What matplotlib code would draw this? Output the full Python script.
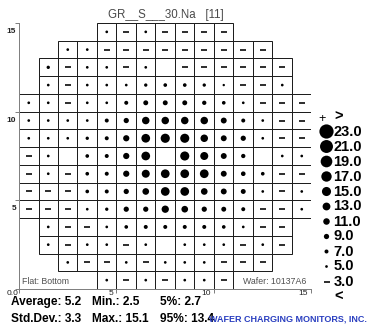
import matplotlib
matplotlib.use("Agg")
import matplotlib.pyplot as plt
from matplotlib.patches import Rectangle

plt.rcParams["font.family"] = ["Liberation Sans", "DejaVu Sans"]

W, H, DPI = 372, 326, 100

title = "GR__S___30.Na   [11]"
flat_label = "Flat: Bottom"
wafer_label = "Wafer: 10137A6"
company = "WAFER CHARGING MONITORS, INC."

# first die column of every wafer row, top row first
row_start = [4, 2, 1, 1, 0, 0, 0, 0, 0, 0, 0, 1, 1, 2, 4]
# site readings along each row (None = site without a reading)
row_values = [
    [5, 3, 5, 3, 3, 3, 3],
    [5, 5, 3, 3, 3, 3, 3, 3, 3, 3, 3],
    [6, 3, 5, 5, 3, 5, None, 3, 3, 3, 3, 3, 3],
    [5, 3, 5, 5, 5, 6, 6.5, 6.5, 6, 4.5, 3, 3, 5],
    [5, 5, 3, 5, 5, 7, 8.5, 8.5, 8.5, 7.5, 6.5, 5, 3, 3, 3],
    [5, 5, 5, 5, 7, 9, 12.5, 12.5, 12.5, 12.5, 10, 7, 5, 3, 3],
    [5, 5, 5, 6, 7, 10.5, 14.4, 15.1, 15, 12.5, 10, 9, 5, 3, 3],
    [3, 5, None, 6.5, 7, 10.5, 14.4, None, 15, 13.3, 10, 7.5, None, 5, 5],
    [3, 5, 3, 6.5, 7, 10.5, 13.3, 14.4, 14.4, 14.4, 10, 8, 6.5, 3, 3],
    [3, 3, 3, 6.5, 7, 9, 11.2, 14.4, 14.4, 11.2, 10, 8.5, 5, 3, 5],
    [3, 3, 3, 5, 6, 9, 9, 12.2, 11.2, 9, 8.5, 7, 3, 3, 5],
    [5, 3, 3, 5, 6.5, 7, 7, 7, 7, 6.5, 5, 3, 3],
    [5, 3, 5, 5, 3, 5, None, 5, 5, 5, 3, 5, 3],
    [5, 3, 3, 5, 3, 5, 5, 5, 3, 3, 3],
    [5, 3, 5, 3, 5, 5, 3],
]

legend_levels = [23.0, 21.0, 19.0, 17.0, 15.0, 13.0, 11.0, 9.0, 7.0, 5.0, 3.0]

stat_rows = [
    [("Average:", 5.2), ("Min.:", 2.5), ("5%:", 2.7)],
    [("Std.Dev.:", 3.3), ("Max.:", 15.1), ("95%:", 13.4)],
]

x_ticks = [0, 5, 10, 15]
y_ticks = [5, 10, 15]

DASH_BELOW = 4.0
PT = 72.0 / DPI  # points per pixel


def dot_size(v):
    # marker area in pt^2 for a circle whose pixel diameter grows with the reading
    d = 0.64 * v - 0.5
    return (d * PT) ** 2


def draw_marks(axis, xs, ys, vals):
    cx, cy, cs, dx, dy = [], [], [], [], []
    for x, y, v in zip(xs, ys, vals):
        if v < DASH_BELOW:
            dx.append(x)
            dy.append(y)
        else:
            cx.append(x)
            cy.append(y)
            cs.append(dot_size(v))
    axis.scatter(cx, cy, s=cs, c="black", marker="o", linewidths=0,
                 clip_on=False, zorder=3)
    axis.scatter(dx, dy, s=(6.5 * PT) ** 2, c="black", marker="_",
                 linewidths=1.6 * PT, clip_on=False, zorder=3)


fig = plt.figure(figsize=(W / DPI, H / DPI), dpi=DPI)
fig.patch.set_facecolor("white")

ax = fig.add_axes([19 / W, (H - 289) / H, 292.5 / W, 266 / H])
ax.set_xlim(0, 15)
ax.set_ylim(0, 15)
nrows = len(row_start)

xs, ys, vals = [], [], []
for r, (start, row) in enumerate(zip(row_start, row_values)):
    y = nrows - 1 - r
    for k, v in enumerate(row):
        c = start + k
        ax.add_patch(Rectangle((c, y), 1, 1, fill=False, edgecolor="#1e1e1e",
                               linewidth=1.0 * PT, zorder=2))
        if v is not None:
            xs.append(c + 0.5)
            ys.append(y + 0.5)
            vals.append(v)
draw_marks(ax, xs, ys, vals)

for side in ["top", "right"]:
    ax.spines[side].set_visible(False)
for side in ["left", "bottom"]:
    ax.spines[side].set_color("#808080")
    ax.spines[side].set_linewidth(1.0 * PT)
ax.set_xticks(x_ticks)
ax.set_yticks([0] + y_ticks)
ax.tick_params(length=4 * PT, width=1.0 * PT, color="#808080",
               labelleft=False, labelbottom=False)

for t in y_ticks:
    ax.text(-0.15, t - 0.48, str(t), ha="right", va="center", fontsize=6,
            fontweight="bold", color="#222222")
for t in x_ticks[1:]:
    ax.text(t - 0.18, -0.27, str(t), ha="right", va="center", fontsize=6,
            color="#222222")
ax.text(-0.04, -0.27, "0.0", ha="right", va="center", fontsize=6, color="#222222")

ax.text(7.55, 15.45, title, ha="center", va="center", fontsize=8.3, color="#4a4a4a")
ax.text(0.17, 0.4, flat_label, ha="left", va="center", fontsize=6.3, color="#505050")
ax.text(14.75, 0.4, wafer_label, ha="right", va="center", fontsize=6.3, color="#505050")

# size legend on the right
lax = fig.add_axes([314 / W, (H - 304) / H, 58 / W, 195 / H])
lax.set_xlim(0, 58)
lax.set_ylim(len(legend_levels) + 1.5, -0.5)
lax.axis("off")
pos = list(range(1, len(legend_levels) + 1))
draw_marks(lax, [12.5] * len(legend_levels), pos, legend_levels)
for p, v in zip(pos, legend_levels):
    lax.text(19.5, p, f"{v:.1f}", ha="left", va="center", fontsize=10.5,
             fontweight="bold")
lax.text(8, 0.15, "+", ha="center", va="center", fontsize=9)
lax.text(20.5, 0, ">", ha="left", va="center", fontsize=10.5, fontweight="bold")
lax.text(20.5, len(legend_levels) + 1, "<", ha="left", va="center", fontsize=10.5,
         fontweight="bold")

# summary statistics under the map
col_x = [11, 92, 160]
line_base = [305, 321.5]
for base, row in zip(line_base, stat_rows):
    for x, (name, val) in zip(col_x, row):
        fig.text(x / W, 1 - base / H, f"{name} {val}", ha="left", va="baseline",
                 fontsize=8.6, fontweight="bold")
fig.text(209 / W, 1 - 321.5 / H, company, ha="left", va="baseline", fontsize=6.5,
         fontweight="bold", color="#2a3fc0")

fig.savefig("out.png", dpi=DPI)
